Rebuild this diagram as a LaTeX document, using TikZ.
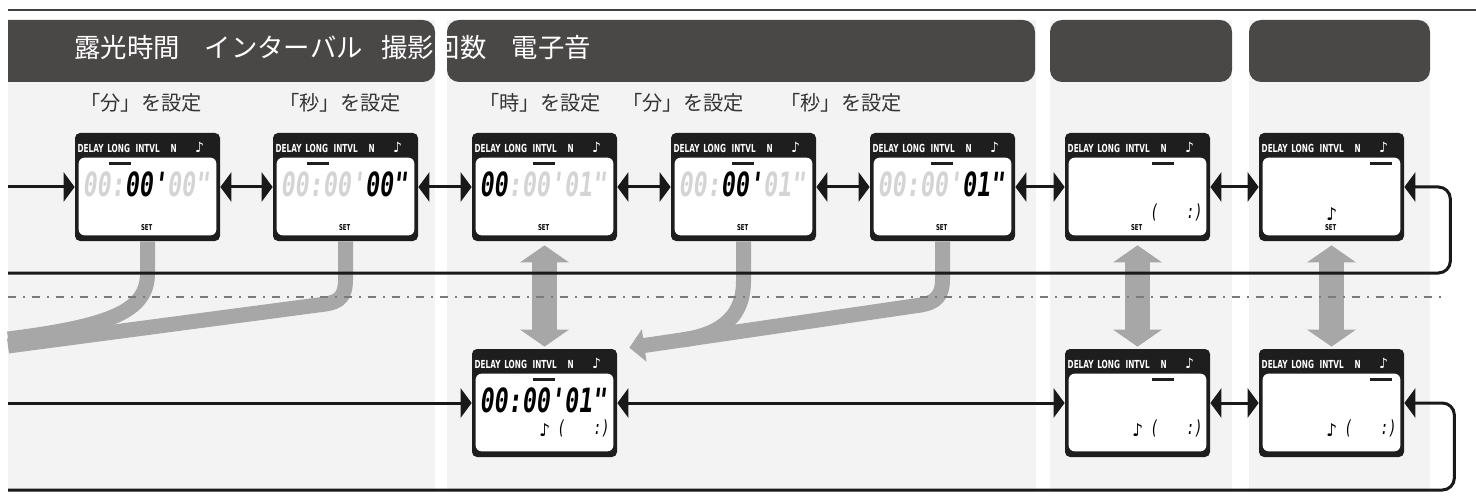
\documentclass[tikz,border=0pt]{standalone}
\usepackage{fontspec}
\newfontfamily\jpfont{Noto Sans CJK JP}
\newfontfamily\tagfont[FakeStretch=0.66]{DejaVu Sans}
\newfontfamily\segfont[FakeStretch=0.7,FakeSlant=0.12]{DejaVu Sans Mono}
\newfontfamily\notefont{DejaVu Sans}
\usetikzlibrary{arrows.meta,positioning}

\definecolor{hdrgrey}{HTML}{4A4747}
\definecolor{panel}{HTML}{F3F3F3}
\definecolor{lcdblack}{HTML}{1E1E1E}
\definecolor{segoff}{HTML}{D4D4D4}
\definecolor{grarrow}{HTML}{A7A7A7}
\definecolor{dashgrey}{HTML}{7A7A7A}

% unlit segments of the display
\newcommand\offseg[1]{{\color{segoff}#1}}

% one LCD screen: name, left, top (px), centre of the mode bar (px from left)
\newcommand\lcd[4]{%
  \node[lcdframe] (#1) at (#2+72.5,#3+54) {};
  \fill[white, rounded corners=1.2mm] ([shift={(4,25)}]#1.north west) rectangle ([shift={(-4,-6)}]#1.south east);
  \node[tagtxt] (#1-d) at ([shift={(16,16)}]#1.north west) {DELAY};
  \node[tagtxt] (#1-l) at ([shift={(44,16)}]#1.north west) {LONG};
  \node[tagtxt] (#1-i) at ([shift={(73,16)}]#1.north west) {INTVL};
  \node[tagtxt] (#1-n) at ([shift={(99,16)}]#1.north west) {N};
  \node[tagtxt, font=\notefont\bfseries\fontsize{8}{9}\selectfont] (#1-m) at ([shift={(125,15)}]#1.north west) {♪};
  \fill[lcdblack] ([shift={(#4-11,29)}]#1.north west) rectangle ++(22,3.5);
}
\newcommand\lcdset[1]{\node[settxt] (#1-set) at ([shift={(72,95)}]#1.north west) {SET};}
\newcommand\lcdtime[2]{\node[segtxt] (#1-time) at ([shift={(71,52)}]#1.north west) {#2};}
\newcommand\lcdnote[1]{\node[notetxt] (#1-note) at ([shift={(73,81)}]#1.north west) {♪};}
\newcommand\lcdbrk[1]{%
  \node[brktxt] (#1-bl) at ([shift={(89,80)}]#1.north west) {(};
  \node[brktxt] (#1-br) at ([shift={(129,80)}]#1.north west) {:)};}

\begin{document}
\begin{tikzpicture}[x=0.2mm, y=-0.2mm,
  font=\jpfont,
  lcdframe/.style={fill=lcdblack, rounded corners=1mm, inner sep=0pt,
                   minimum width=29mm, minimum height=21.6mm},
  tagtxt/.style={text=white, inner sep=0pt, font=\tagfont\bfseries\fontsize{6.3}{7}\selectfont},
  settxt/.style={inner sep=0pt, font=\tagfont\bfseries\fontsize{4.6}{5}\selectfont},
  segtxt/.style={inner sep=0pt, font=\segfont\bfseries\fontsize{19}{20}\selectfont},
  brktxt/.style={inner sep=0pt, font=\segfont\fontsize{11}{12}\selectfont},
  notetxt/.style={inner sep=0pt, font=\notefont\fontsize{10}{11}\selectfont},
  subtxt/.style={text=black!80, inner sep=0pt, font=\jpfont\fontsize{11.5}{13}\selectfont},
  hdrtxt/.style={text=white, inner sep=0pt, font=\jpfont\fontsize{15}{17}\selectfont},
  flow/.style={line width=0.6mm, black!90},
  arr/.style={flow, -{Triangle[length=2.2mm,width=5.8mm]}},
  darr/.style={flow, {Triangle[length=2.2mm,width=5.8mm]}-{Triangle[length=2.2mm,width=5.8mm]}},
  gband/.style={line width=3mm, grarrow, line join=round},
  gdouble/.style={line width=5mm, grarrow, shorten <=0.8mm, shorten >=0.4mm,
                  {Triangle[length=3.4mm,width=9.6mm]}-{Triangle[length=3.4mm,width=9.6mm]}}
]
\useasboundingbox (0,0) rectangle (1476,496);
% ----- column panels and headers -----
\fill[panel] (8,20) rectangle (435,492);
\fill[panel] (447,20) rectangle (1036,492);
\fill[panel] (1050,20) rectangle (1232,492);
\fill[panel] (1249,20) rectangle (1430,492);
\begin{scope}
  \clip (8,0) rectangle (1476,496);
  \fill[hdrgrey, rounded corners=2.4mm] (-20,20) rectangle (435,82);
\end{scope}
\fill[hdrgrey, rounded corners=2.4mm] (447,20) rectangle (1035,82);
\fill[hdrgrey, rounded corners=2.4mm] (1050,20) rectangle (1232,82);
\fill[hdrgrey, rounded corners=2.4mm] (1249,20) rectangle (1430,82);
\coordinate (topL) at (8,10);
\coordinate (topR) at (1476,10);
\draw[line width=0.3mm, black!75] (topL) -- (topR);
\node[hdrtxt, anchor=west] (title) at (74,48)
  {露光時間\hspace{0.95em}インターバル\hspace{0.7em}撮影回数\hspace{0.95em}電子音};
% ----- step captions -----
\node[subtxt] (sub1) at (141,103) {「分」を設定};
\node[subtxt] (sub2) at (340,103) {「秒」を設定};
\node[subtxt] (sub3) at (540,103) {「時」を設定};
\node[subtxt] (sub4) at (683,103) {「分」を設定};
\node[subtxt] (sub5) at (841,103) {「秒」を設定};
% ----- upper row of screens -----
\lcd{b1}{75}{133}{45}    \lcdtime{b1}{\offseg{00:}00'\offseg{00"}} \lcdset{b1}
\lcd{b2}{273}{133}{45}   \lcdtime{b2}{\offseg{00:00'}00"} \lcdset{b2}
\lcd{b3}{472}{133}{72}   \lcdtime{b3}{00\offseg{:00'01"}} \lcdset{b3}
\lcd{b4}{671}{133}{72}   \lcdtime{b4}{\offseg{00:}00'\offseg{01"}} \lcdset{b4}
\lcd{b5}{870}{133}{72}   \lcdtime{b5}{\offseg{00:00'}01"} \lcdset{b5}
\lcd{b6}{1065}{133}{98}  \lcdbrk{b6} \lcdset{b6}
\lcd{b7}{1259}{133}{122} \lcdnote{b7} \lcdset{b7}
% ----- lower row of screens -----
\lcd{b8}{472}{349}{72}   \lcdtime{b8}{00:00'01"} \lcdnote{b8} \lcdbrk{b8}
\lcd{b9}{1065}{349}{98}  \lcdnote{b9} \lcdbrk{b9}
\lcd{b10}{1259}{349}{122} \lcdnote{b10} \lcdbrk{b10}
% ----- grey transfer arrows -----
\coordinate (outA) at (8,339);
\coordinate (outB) at (8,346);
\draw[gband] (b1.south) -- ++(0,32) .. controls ++(0,38) and (110,326) .. (outA);
\draw[gband] (b2.south) -- ++(0,38) .. controls ++(0,22) and (335,303) .. (318,305) -- (outB);
\coordinate (tipC) at ([shift={(12,-1)}]b8.north east);
\draw[gband] (b4.south) -- ++(0,40) .. controls ++(0,32) and (725,334) .. (682,340);
\draw[gband, -{Triangle[length=3mm,width=6.4mm]}]
  (b5.south) -- ++(0,38) .. controls ++(0,22) and (930,304) .. (914,306) -- (tipC);
\foreach \a/\b in {b3/b8, b6/b9, b7/b10}{\draw[gdouble] (\a.south) -- (\b.north);}
% ----- separator -----
\coordinate (dashL) at (8,297);
\coordinate (dashR) at (1445,297);
\draw[dashgrey, line width=0.45mm, dash pattern=on 1.6mm off 1.4mm on 0.4mm off 1.4mm] (dashL) -- (dashR);
% ----- upper flow -----
\coordinate (inTop) at (8,187);
\coordinate (retTop) at (8,273);
\draw[arr] (inTop) -- (b1);
\foreach \a/\b in {b1/b2, b2/b3, b3/b4, b4/b5, b5/b6, b6/b7}{\draw[darr] (\a) -- (\b);}
\draw[arr, rounded corners=2.4mm] (retTop) -| ([shift={(46,0)}]b7.east) -- (b7.east);
% ----- lower flow -----
\coordinate (inBot) at (8,403);
\coordinate (retBot) at (8,490);
\draw[arr] (inBot) -- (b8);
\foreach \a/\b in {b8/b9, b9/b10}{\draw[darr] (\a) -- (\b);}
\draw[arr, rounded corners=2.4mm] (retBot) -| ([shift={(50,0)}]b10.east) -- (b10.east);
\end{tikzpicture}
\end{document}
